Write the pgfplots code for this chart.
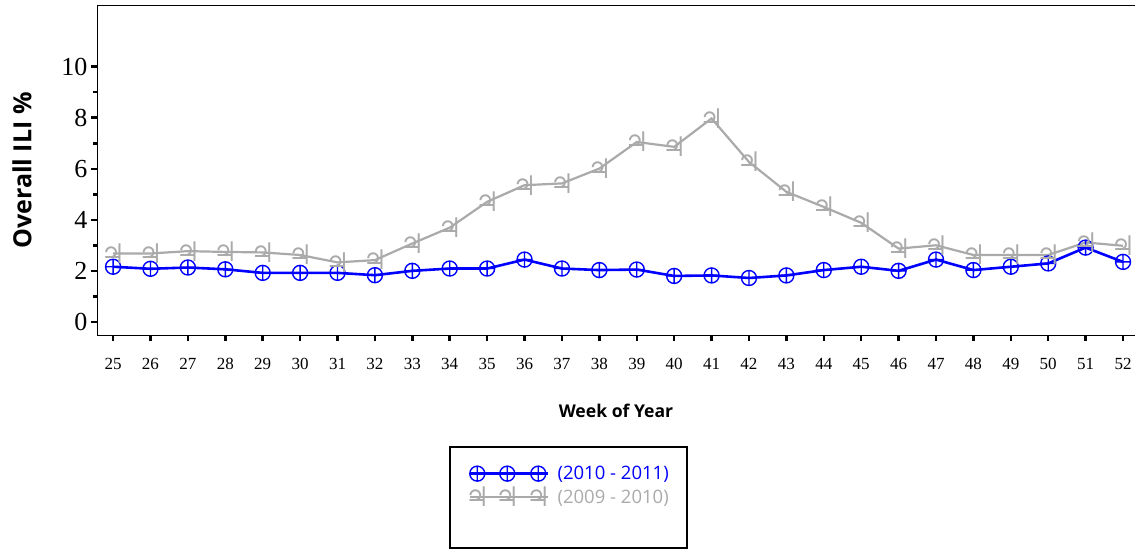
\documentclass[border=0pt]{standalone}
\usepackage{fontspec}
\setmainfont{Liberation Serif}
\newfontfamily\labfont{Open Sans}
\newfontfamily\symfont{DejaVu Sans}
\usepackage{pgfplots}
\usepackage{pgfplotstable}
\pgfplotsset{compat=1.18}
\definecolor{ilblue}{RGB}{0,0,255}
\definecolor{ilgray}{HTML}{AAAAAA}

% weekly overall ILI %, two seasons
\pgfplotstableread{
week s1011 s0910
25 2.17 2.69
26 2.09 2.69
27 2.14 2.78
28 2.07 2.75
29 1.93 2.73
30 1.93 2.63
31 1.93 2.34
32 1.84 2.43
33 2.01 3.08
34 2.10 3.70
35 2.10 4.71
36 2.45 5.36
37 2.10 5.43
38 2.04 6.01
39 2.06 7.05
40 1.81 6.86
41 1.83 7.97
42 1.73 6.27
43 1.83 5.10
44 2.04 4.51
45 2.17 3.89
46 2.01 2.88
47 2.45 3.01
48 2.04 2.63
49 2.17 2.63
50 2.30 2.63
51 2.92 3.12
52 2.36 2.99
}\ilitable

\begin{document}
\begin{tikzpicture}
\useasboundingbox (0pt,0pt) rectangle (1135pt,549pt);
\begin{axis}[
    at={(97pt,214pt)}, anchor=south west,
    scale only axis,
    width=1038pt, height=329pt,
    xmin=24.57, xmax=52.32,
    ymin=-0.5, ymax=12.37,
    axis x line=box, axis y line=left,
    axis line style={-, line width=1pt, black},
    xtick={25,...,52}, xtick pos=left,
    ytick={0,2,...,10}, minor ytick={1,3,...,9},
    tick align=outside,
    major tick length=6pt, minor tick length=4pt,
    tick style={line width=2.5pt, black},
    /pgf/number format/assume math mode=true,
    xticklabel style={font=\fontsize{17}{17}\selectfont, yshift=-14pt},
    yticklabel style={font=\fontsize{26}{26}\selectfont},
    xlabel={Week of Year},
    ylabel={Overall ILI \%},
    every axis x label/.style={at={(rel axis cs:0.5,-0.231)}, anchor=center,
        font=\labfont\bfseries\fontsize{17.6}{17.6}\selectfont},
    every axis y label/.style={at={(rel axis cs:-0.0723,0.5)}, anchor=center, rotate=90,
        font=\labfont\bfseries\fontsize{25}{25}\selectfont},
    legend style={draw=none, fill=none, at={(axis description cs:0.3545,-0.398)},
        anchor=north west, inner sep=0pt, row sep=5.5pt,
        font=\labfont\fontsize{18.5}{18.5}\selectfont,
        /tikz/every even column/.append style={column sep=0pt},
        nodes={inner sep=0pt}},
    legend cell align=left,
    legend image code/.code={
        \draw[#1, mark=none] (0pt,0pt) -- (78pt,0pt);
        \draw[#1] plot[only marks] coordinates {(7pt,0pt) (37pt,0pt) (68pt,0pt)};
        \path (86pt,0pt);
    },
]
\addplot[ilblue, line width=2.6pt, mark=oplus, mark size=7.5pt,
    mark options={line width=1.4pt}]
    table[x=week, y=s1011] {\ilitable};
\addlegendentry[text=ilblue]{(2010 - 2011)}
\addplot[ilgray, line width=2.2pt, mark=text, text mark={♃},
    text mark as node=true,
    text mark style={font=\symfont\fontsize{27}{27}\selectfont, text=ilgray, anchor=center, inner sep=0pt}]
    table[x=week, y=s0910] {\ilitable};
\addlegendentry[text=ilgray]{(2009 - 2010)}
\end{axis}
\draw[line width=2.5pt] (450pt,102pt) rectangle (687pt,1.25pt);
\end{tikzpicture}
\end{document}
